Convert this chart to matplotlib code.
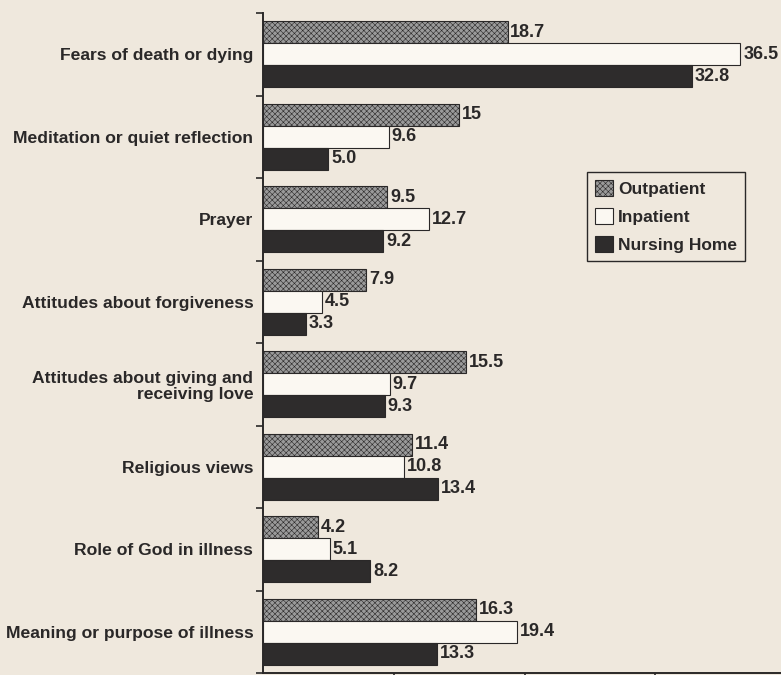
import numpy as np
import matplotlib.pyplot as plt

categories = ["Fears of death or dying",
              "Meditation or quiet reflection",
              "Prayer",
              "Attitudes about forgiveness",
              "Attitudes about giving and\nreceiving love",
              "Religious views",
              "Role of God in illness",
              "Meaning or purpose of illness"]
outpatient = [18.7, 15, 9.5, 7.9, 15.5, 11.4, 4.2, 16.3]
inpatient = [36.5, 9.6, 12.7, 4.5, 9.7, 10.8, 5.1, 19.4]
nursing_home = [32.8, 5.0, 9.2, 3.3, 9.3, 13.4, 8.2, 13.3]
out_labels = ["18.7", "15", "9.5", "7.9", "15.5", "11.4", "4.2", "16.3"]
in_labels = ["36.5", "9.6", "12.7", "4.5", "9.7", "10.8", "5.1", "19.4"]
nh_labels = ["32.8", "5.0", "9.2", "3.3", "9.3", "13.4", "8.2", "13.3"]

bg = "#efe8dd"
ink = "#2a2828"
font = ["Liberation Sans Narrow", "Liberation Sans", "DejaVu Sans"]
plt.rcParams['font.family'] = font
plt.rcParams['hatch.color'] = "#6e6e6e"
plt.rcParams['hatch.linewidth'] = 0.4

fig = plt.figure(figsize=(7.81, 6.75), dpi=100, facecolor=bg)
ax = fig.add_axes([263/781, 2/675, (781-263)/781, 660/675])
ax.set_facecolor(bg)

y = np.arange(len(categories))
h = 0.267
b1 = ax.barh(y - h, outpatient, height=h, color="#9a9a9a", hatch="xxxxxx",
             edgecolor=ink, linewidth=0.8, label="Outpatient")
b2 = ax.barh(y, inpatient, height=h, color="#fbf8f2",
             edgecolor=ink, linewidth=0.8, label="Inpatient")
b3 = ax.barh(y + h, nursing_home, height=h, color="#2e2c2c",
             edgecolor=ink, linewidth=0.8, label="Nursing Home")
for bars, labs in [(b1, out_labels), (b2, in_labels), (b3, nh_labels)]:
    ax.bar_label(bars, labels=labs, padding=2, fontsize=13, fontweight='bold',
                 color=ink, family=font)

ax.set_xlim(0, (781-263)/13.08)
ax.set_ylim(len(categories) - 0.5, -0.5)
ax.set_yticks(y)
ax.set_yticklabels(categories, fontsize=12.6, fontweight='bold', color=ink,
                   ha='right', linespacing=1.1)
ax.tick_params(axis='y', which='major', length=0, pad=7)
ax.set_yticks(np.arange(-0.5, len(categories)), minor=True)
ax.tick_params(axis='y', which='minor', length=5, width=1.2, color=ink)
ax.set_xticks([10, 20, 30])
ax.tick_params(axis='x', length=6, width=1.2, color=ink, labelbottom=False)
for s in ["top", "right"]:
    ax.spines[s].set_visible(False)
for s in ["left", "bottom"]:
    ax.spines[s].set_linewidth(1.4)
    ax.spines[s].set_color(ink)

leg = ax.legend(loc="upper left", bbox_to_anchor=(587/781, 1 - 172/675),
                bbox_transform=fig.transFigure, fancybox=False,
                prop={'family': font, 'weight': 'bold', 'size': 12.5},
                handlelength=1.05, handleheight=1.05, handletextpad=0.3,
                labelspacing=0.65, borderpad=0.45, borderaxespad=0,
                framealpha=1)
leg.get_frame().set_edgecolor(ink)
leg.get_frame().set_facecolor(bg)
leg.get_frame().set_linewidth(1.0)
for t in leg.get_texts():
    t.set_color(ink)

plt.savefig("out.png", dpi=100, facecolor=bg)
